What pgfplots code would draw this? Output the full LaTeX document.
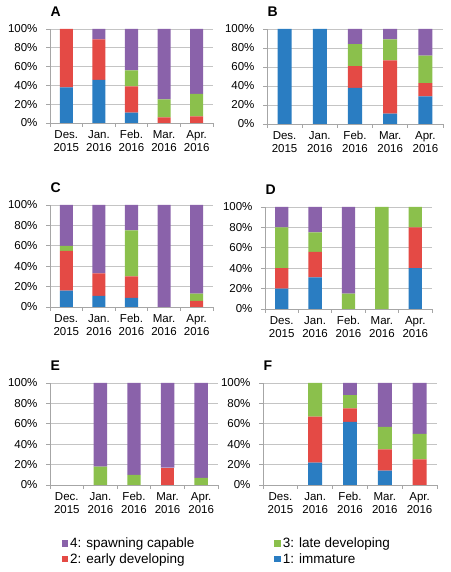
\documentclass[border=0pt]{standalone}
\usepackage{fontspec}
\setmainfont{Liberation Sans}
\usepackage{pgfplots}
\usepackage{pgfplotstable}
\pgfplotsset{compat=1.18}
\definecolor{cImm}{HTML}{2A7DC2}
\definecolor{cEarly}{HTML}{E44A45}
\definecolor{cLate}{HTML}{8BC04C}
\definecolor{cSpawn}{HTML}{8A62AA}
\definecolor{cGrid}{HTML}{C4C4C4}
\definecolor{cAxis}{HTML}{A6A6A6}

% columns: s1 immature, s2 early developing, s3 late developing, s4 spawning capable
\pgfplotstableread{
x s1 s2 s3 s4
0 38 62 0 0
1 46 43 0 11
2 11 28 17 44
3 0 6 19 75
4 0 7 24 69
}\dataA
\pgfplotstableread{
x s1 s2 s3 s4
0 100 0 0 0
1 100 0 0 0
2 38 23 23 16
3 11 56 22 11
4 29 14 29 28
}\dataB
\pgfplotstableread{
x s1 s2 s3 s4
0 16 39 5 40
1 11 22 0 67
2 9 21 45 25
3 0 0 0 100
4 0 6 7 87
}\dataC
\pgfplotstableread{
x s1 s2 s3 s4
0 20 20 40 20
1 31 25 19 25
2 0 0 15 85
3 0 0 100 0
4 40 40 20 0
}\dataD
\pgfplotstableread{
x s1 s2 s3 s4
0 0 0 0 0
1 0 0 18 82
2 0 0 10 90
3 0 17 0 83
4 0 0 7 93
}\dataE
\pgfplotstableread{
x s1 s2 s3 s4
0 0 0 0 0
1 22 45 33 0
2 62 13 13 12
3 14 21 22 43
4 0 25 25 50
}\dataF

\newcommand{\tl}[2]{\strut#1\\\strut#2}
\pgfplotsset{
  panel/.style={
    scale only axis,
    ybar stacked, bar width=0.4,
    ymin=0, ymax=100, xmin=-0.5, xmax=4.5,
    axis lines=left,
    axis line style={-, draw=cAxis, line width=0.8pt},
    tick align=outside,
    ytick={0,20,40,60,80,100},
    yticklabels={0\%,20\%,40\%,60\%,80\%,100\%},
    xtick={0,1,2,3,4},
    xticklabels={{\tl{Des.}{2015}},{\tl{Jan.}{2016}},{\tl{Feb.}{2016}},{\tl{Mar.}{2016}},{\tl{Apr.}{2016}}},
    minor xtick={-0.5,0.5,1.5,2.5,3.5,4.5},
    major x tick style={draw=none},
    minor x tick style={draw=cAxis, line width=0.8pt},
    y tick style={draw=cAxis, line width=0.8pt},
    major tick length=4pt, minor tick length=4pt,
    ymajorgrids, grid style={draw=cGrid, line width=0.8pt},
    ticklabel style={font=\fontsize{11.5}{12.5}\selectfont},
    xticklabel style={align=center, anchor=north, inner sep=0pt, yshift=-3pt},
    yticklabel style={xshift=-5pt},
    title style={at={(0,1)}, anchor=south west, xshift=-3pt, yshift=3pt,
      font=\fontsize{14}{14}\selectfont\bfseries},
    legend image code/.code={\fill[##1] (0pt,-3pt) rectangle (6.5pt,3.5pt);},
  },
}
\newcommand{\bars}[1]{%
  \addplot[fill=cImm, draw=none] table[x=x, y=s1] {#1};
  \addplot[fill=cEarly, draw=none] table[x=x, y=s2] {#1};
  \addplot[fill=cLate, draw=none] table[x=x, y=s3] {#1};
  \addplot[fill=cSpawn, draw=none] table[x=x, y=s4] {#1};
}

\begin{document}
\begin{tikzpicture}[x=1pt,y=1pt]
\useasboundingbox (0,0) rectangle (450,572);
\begin{axis}[panel, at={(50pt,449pt)}, anchor=south west, width=163pt, height=94pt, title={A}]
\bars{\dataA}
\end{axis}
\begin{axis}[panel, at={(267pt,448pt)}, anchor=south west, width=176pt, height=95pt, title={B}]
\bars{\dataB}
\end{axis}
\begin{axis}[panel, at={(50pt,265pt)}, anchor=south west, width=163pt, height=102pt, title={C}]
\bars{\dataC}
\end{axis}
\begin{axis}[panel, at={(265pt,263pt)}, anchor=south west, width=167pt, height=102pt, title={D}]
\bars{\dataD}
\end{axis}
\begin{axis}[panel, at={(50pt,87pt)}, anchor=south west, width=168pt, height=102pt, title={E},
  xticklabels={{\tl{Dec.}{2015}},{\tl{Jan.}{2016}},{\tl{Feb.}{2016}},{\tl{Mar.}{2016}},{\tl{Apr.}{2016}}},
  legend columns=2, reverse legend,
  legend style={at={(axis description cs:0.05,-0.48)}, anchor=north west, draw=none, fill=none,
    font=\fontsize{13.5}{15}\selectfont, row sep=0pt,
    /tikz/every even column/.append style={column sep=78pt}},
  legend cell align=left]
\bars{\dataE}
\legend{1: immature, 2: early developing, 3: late developing, 4: spawning capable}
\end{axis}
\begin{axis}[panel, at={(263pt,87pt)}, anchor=south west, width=174pt, height=102pt, title={F}]
\bars{\dataF}
\end{axis}
\end{tikzpicture}
\end{document}
